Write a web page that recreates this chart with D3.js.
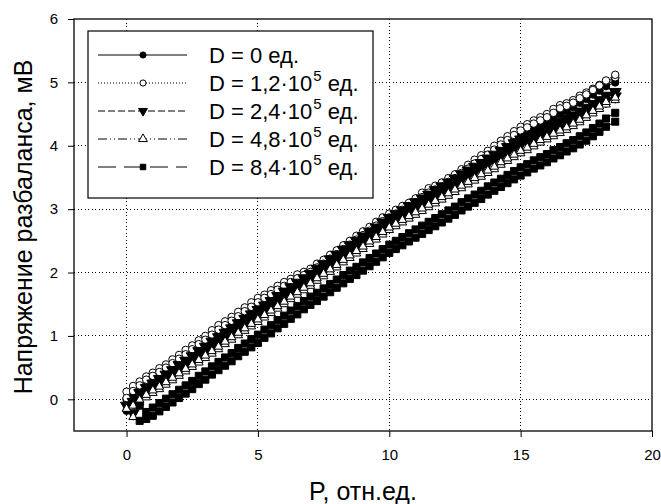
<!DOCTYPE html>
<html><head><meta charset="utf-8">
<script src="https://cdn.jsdelivr.net/npm/d3@7"></script>
<style>body{margin:0;background:#fff}svg{display:block}text{font-family:"Liberation Sans",Arial,sans-serif;fill:#000}</style>
</head><body><svg id="c" width="661" height="504"></svg>
<script>
// ---- data ----
const X_TICKS = [0, 5, 10, 15, 20];
const Y_TICKS = [0, 1, 2, 3, 4, 5, 6];
// pressure values (P, отн.ед.), shared by loading and unloading branches
const P = [0,0.25,0.5,0.75,1,1.25,1.5,1.75,2,2.25,2.5,2.75,3,3.25,3.5,3.75,4,4.25,4.5,4.75,5,5.25,5.5,5.75,6,6.25,6.5,6.75,7,7.25,7.5,7.75,8,8.25,8.5,8.75,9,9.25,9.5,9.75,10,10.25,10.5,10.75,11,11.25,11.5,11.75,12,12.25,12.5,12.75,13,13.25,13.5,13.75,14,14.25,14.5,14.75,15,15.25,15.5,15.75,16,16.25,16.5,16.75,17,17.25,17.5,17.75,18,18.25,18.6];

const LABELS = ["D = 0 ед.", "D = 1,2·10|5| ед.", "D = 2,4·10|5| ед.", "D = 4,8·10|5| ед.", "D = 8,4·10|5| ед."];

const D0_UP = [0.00,0.07,0.14,0.21,0.28,0.34,0.41,0.49,0.56,0.63,0.71,0.79,0.86,0.93,1.01,1.09,1.16,1.23,1.31,1.39,1.46,1.52,1.58,1.65,1.71,1.77,1.83,1.88,1.94,2.00,2.06,2.14,2.21,2.28,2.36,2.44,2.51,2.58,2.66,2.73,2.79,2.85,2.91,2.97,3.03,3.10,3.16,3.22,3.28,3.35,3.41,3.49,3.56,3.63,3.71,3.79,3.86,3.93,4.01,4.09,4.16,4.21,4.27,4.33,4.38,4.44,4.50,4.55,4.61,4.68,4.74,4.81,4.87,4.94,5.00];
const D0_DOWN = [-0.18,0.12,0.21,0.28,0.35,0.41,0.48,0.56,0.63,0.70,0.78,0.86,0.93,1.00,1.08,1.16,1.23,1.30,1.38,1.46,1.53,1.59,1.65,1.72,1.78,1.84,1.90,1.95,2.01,2.07,2.13,2.21,2.28,2.35,2.43,2.51,2.58,2.65,2.73,2.80,2.86,2.92,2.98,3.04,3.10,3.17,3.23,3.29,3.35,3.42,3.48,3.56,3.63,3.70,3.78,3.86,3.93,4.00,4.08,4.16,4.23,4.28,4.34,4.40,4.45,4.51,4.57,4.62,4.68,4.75,4.81,4.88,4.94,5.01,5.07];

const D12_UP = [0.12,0.21,0.28,0.36,0.42,0.49,0.55,0.63,0.70,0.78,0.85,0.93,1.00,1.09,1.17,1.23,1.30,1.38,1.45,1.53,1.60,1.65,1.72,1.79,1.85,1.90,1.97,2.01,2.06,2.14,2.20,2.28,2.35,2.43,2.50,2.58,2.65,2.72,2.80,2.87,2.93,2.99,3.05,3.10,3.17,3.26,3.33,3.37,3.42,3.49,3.55,3.63,3.70,3.78,3.85,3.92,4.00,4.08,4.15,4.23,4.30,4.34,4.40,4.45,4.50,4.58,4.64,4.67,4.72,4.79,4.84,4.90,4.96,5.02,5.08];
const D12_DOWN = [0.02,0.13,0.22,0.31,0.37,0.43,0.50,0.57,0.64,0.71,0.79,0.87,0.94,1.02,1.10,1.17,1.24,1.31,1.39,1.46,1.53,1.60,1.66,1.73,1.79,1.85,1.91,1.96,2.01,2.08,2.14,2.22,2.29,2.37,2.44,2.52,2.59,2.66,2.74,2.81,2.87,2.93,2.99,3.05,3.11,3.19,3.26,3.31,3.36,3.43,3.49,3.57,3.64,3.72,3.79,3.86,3.94,4.02,4.09,4.17,4.24,4.29,4.35,4.40,4.45,4.52,4.59,4.63,4.68,4.75,4.81,4.88,4.95,5.03,5.12];

const D24_UP = [-0.10,-0.04,0.02,0.10,0.17,0.24,0.31,0.38,0.46,0.53,0.60,0.68,0.75,0.83,0.90,0.97,1.04,1.12,1.19,1.26,1.33,1.40,1.47,1.55,1.62,1.69,1.76,1.83,1.90,1.98,2.05,2.13,2.20,2.28,2.35,2.42,2.49,2.56,2.63,2.71,2.78,2.84,2.90,2.97,3.03,3.09,3.15,3.22,3.28,3.34,3.40,3.47,3.53,3.59,3.65,3.72,3.78,3.84,3.90,3.96,4.02,4.06,4.10,4.15,4.20,4.25,4.30,4.35,4.40,4.46,4.52,4.58,4.64,4.71,4.78];
const D24_DOWN = [null,-0.22,0.10,0.18,0.25,0.32,0.39,0.46,0.54,0.61,0.68,0.76,0.83,0.91,0.98,1.05,1.12,1.20,1.27,1.34,1.41,1.48,1.55,1.63,1.70,1.77,1.84,1.91,1.98,2.06,2.13,2.21,2.28,2.36,2.43,2.50,2.57,2.64,2.71,2.79,2.86,2.92,2.98,3.05,3.11,3.17,3.23,3.30,3.36,3.42,3.48,3.55,3.61,3.67,3.73,3.80,3.86,3.92,3.98,4.04,4.10,4.14,4.18,4.23,4.28,4.33,4.38,4.43,4.48,4.54,4.60,4.66,4.72,4.79,4.85];

const D48_UP = [-0.15,-0.10,-0.05,0.03,0.10,0.16,0.23,0.30,0.37,0.44,0.51,0.58,0.65,0.72,0.79,0.87,0.94,1.01,1.08,1.15,1.22,1.29,1.36,1.43,1.50,1.58,1.65,1.72,1.79,1.87,1.94,2.01,2.08,2.16,2.23,2.30,2.37,2.45,2.52,2.60,2.67,2.73,2.79,2.85,2.91,2.97,3.03,3.09,3.15,3.21,3.27,3.33,3.39,3.45,3.51,3.57,3.63,3.70,3.76,3.82,3.88,3.93,3.99,4.05,4.10,4.15,4.20,4.25,4.31,4.37,4.44,4.51,4.58,4.65,4.72];
const D48_DOWN = [null,-0.28,-0.01,0.07,0.14,0.20,0.27,0.34,0.41,0.48,0.55,0.62,0.69,0.76,0.83,0.91,0.98,1.05,1.12,1.19,1.26,1.33,1.40,1.47,1.54,1.62,1.69,1.76,1.83,1.91,1.98,2.05,2.12,2.20,2.27,2.34,2.41,2.49,2.56,2.64,2.71,2.77,2.83,2.89,2.95,3.01,3.07,3.13,3.19,3.25,3.31,3.37,3.43,3.49,3.55,3.61,3.67,3.74,3.80,3.86,3.92,3.97,4.03,4.09,4.14,4.19,4.24,4.29,4.35,4.41,4.48,4.55,4.62,4.69,4.76];

const D84_UP = [null,null,-0.34,-0.31,-0.26,-0.19,-0.12,-0.05,0.02,0.09,0.16,0.24,0.31,0.39,0.46,0.53,0.60,0.68,0.75,0.82,0.89,0.97,1.04,1.12,1.19,1.27,1.34,1.42,1.49,1.55,1.62,1.69,1.76,1.83,1.90,1.96,2.03,2.10,2.17,2.24,2.31,2.37,2.43,2.49,2.55,2.61,2.67,2.73,2.79,2.85,2.91,2.98,3.04,3.10,3.16,3.23,3.29,3.35,3.41,3.47,3.53,3.58,3.64,3.69,3.74,3.80,3.85,3.91,3.96,4.02,4.08,4.15,4.22,4.30,4.38];
const D84_DOWN = [null,null,-0.10,-0.20,-0.13,-0.06,0.01,0.08,0.15,0.22,0.29,0.37,0.44,0.52,0.59,0.66,0.73,0.81,0.88,0.95,1.02,1.10,1.17,1.25,1.32,1.40,1.47,1.55,1.62,1.68,1.75,1.82,1.89,1.96,2.03,2.09,2.16,2.23,2.30,2.37,2.44,2.50,2.56,2.62,2.68,2.74,2.80,2.86,2.92,2.98,3.04,3.11,3.17,3.23,3.29,3.36,3.42,3.48,3.54,3.60,3.66,3.71,3.77,3.82,3.87,3.93,3.98,4.04,4.09,4.15,4.21,4.28,4.35,4.43,4.52];

// ---- chart ----
const FONT = '"Liberation Sans",Arial,sans-serif';
const svg = d3.select("#c");
const L = 74, R = 652, T = 19, B = 431;
const x = d3.scaleLinear().domain([-2, 20]).range([L, R]);
const y = d3.scaleLinear().domain([-0.5, 6]).range([B, T]);

// grid
const g = svg.append("g");
g.selectAll("line.gx").data(X_TICKS.filter(v => v > -2 && v < 20)).join("line")
  .attr("x1", d => x(d)).attr("x2", d => x(d)).attr("y1", T).attr("y2", B)
  .attr("stroke", "#000").attr("stroke-width", 1).attr("stroke-dasharray", "1,2.5").attr("shape-rendering","crispEdges");
g.selectAll("line.gy").data(Y_TICKS.filter(v => v < 6)).join("line")
  .attr("y1", d => y(d)).attr("y2", d => y(d)).attr("x1", L).attr("x2", R)
  .attr("stroke", "#000").attr("stroke-width", 1).attr("stroke-dasharray", "1,2.5").attr("shape-rendering","crispEdges");

// series
const series = [
  {up: D0_UP, down: D0_DOWN, sym: d3.symbolCircle, size: 44, lsize: 30, fill: "#000", dash: null, rot: 0},
  {up: D12_UP, down: D12_DOWN, sym: d3.symbolCircle, size: 44, lsize: 30, fill: "#fff", dash: "1,2", rot: 0},
  {up: D24_UP, down: D24_DOWN, sym: d3.symbolTriangle, size: 62, lsize: 34, fill: "#000", dash: "7,3", rot: 180},
  {up: D48_UP, down: D48_DOWN, sym: d3.symbolTriangle, size: 32, lsize: 34, fill: "#fff", dash: "9,3,1,3,1,3", rot: 0},
  {up: D84_UP, down: D84_DOWN, sym: d3.symbolSquare, size: 50, lsize: 30, fill: "#000", dash: "18,8", rot: 0}
];
svg.append("clipPath").attr("id","cp").append("rect").attr("x",L).attr("y",T).attr("width",R-L).attr("height",B-T);
const plot = svg.append("g").attr("clip-path","url(#cp)");
series.forEach(s => {
  const pts = [];
  s.up.forEach((v, i) => { if (v !== null) pts.push([P[i], v]); });
  const dn = [];
  s.down.forEach((v, i) => { if (v !== null) dn.push([P[i], v]); });
  dn.reverse().forEach(p => pts.push(p));
  const line = d3.line().x(d => x(d[0])).y(d => y(d[1]));
  plot.append("path").attr("d", line(pts)).attr("fill","none").attr("stroke","#000").attr("stroke-width",1)
    .attr("stroke-dasharray", s.dash);
  plot.selectAll(null).data(pts).join("path")
    .attr("d", d3.symbol().type(s.sym).size(s.size))
    .attr("transform", d => `translate(${x(d[0])},${y(d[1])}) rotate(${s.rot})`)
    .attr("fill", s.fill).attr("stroke", "#000").attr("stroke-width", 1);
});

// frame
svg.append("rect").attr("x", L).attr("y", T).attr("width", R - L).attr("height", B - T)
  .attr("fill","none").attr("stroke","#000").attr("stroke-width",1.3);

// axes
const xa = svg.append("g").attr("transform", `translate(0,${B})`)
  .call(d3.axisBottom(x).tickValues(X_TICKS).tickFormat(d3.format("d")).tickSize(6).tickPadding(12));
const ya = svg.append("g").attr("transform", `translate(${L},0)`)
  .call(d3.axisLeft(y).tickValues(Y_TICKS).tickFormat(d3.format("d")).tickSize(6).tickPadding(10));
[xa, ya].forEach(a => {
  a.select(".domain").remove();
  a.selectAll("line").attr("stroke","#000");
  a.selectAll("text").attr("font-size", 15).attr("font-family", FONT).attr("fill","#000");
});

// titles
svg.append("text").attr("x", (L + R) / 2).attr("y", 500).attr("text-anchor","middle")
  .attr("font-size", 25).text("P, отн.ед.");
svg.append("text").attr("transform", "translate(32,227) rotate(-90)").attr("text-anchor","middle")
  .attr("font-size", 25).text("Напряжение разбаланса, мВ");

// legend
const lg = svg.append("g");
lg.append("rect").attr("x", 88).attr("y", 31).attr("width", 285).attr("height", 167)
  .attr("fill","#fff").attr("stroke","#000").attr("stroke-width",1.2);
const rowY = [55, 83, 111, 139, 167];
series.forEach((s, i) => {
  lg.append("line").attr("x1", 98).attr("x2", 187).attr("y1", rowY[i]).attr("y2", rowY[i])
    .attr("stroke","#000").attr("stroke-width",1).attr("stroke-dasharray", s.dash);
  lg.append("path").attr("d", d3.symbol().type(s.sym).size(s.lsize))
    .attr("transform", `translate(143,${rowY[i]}) rotate(${s.rot})`)
    .attr("fill", s.fill).attr("stroke","#000").attr("stroke-width",1);
  const parts = LABELS[i].split("|");
  const t = lg.append("text").attr("x", 209).attr("y", rowY[i] + 8).attr("font-size", 22);
  t.append("tspan").text(parts[0]);
  if (parts.length > 1) {
    t.append("tspan").attr("dy", -10).attr("dx", 1).attr("font-size", 15).text(parts[1]);
    t.append("tspan").attr("dy", 10).text(parts[2]);
  }
});
</script></body></html>
